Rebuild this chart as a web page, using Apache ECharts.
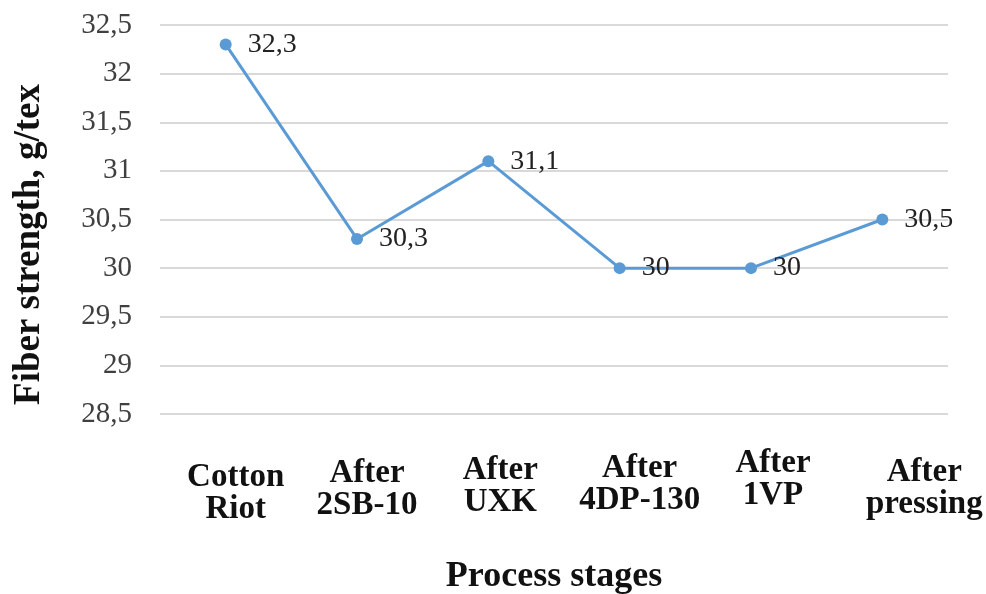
<!DOCTYPE html>
<html><head><meta charset="utf-8">
<script src="https://cdn.jsdelivr.net/npm/echarts@6/dist/echarts.min.js"></script>
<style>html,body{margin:0;padding:0;background:#fff}#c{width:986px;height:594px}</style>
</head><body><div id="c"></div>
<script>
const categories = ['Cotton\nRiot', 'After\n2SB-10', 'After\nUXK', 'After\n4DP-130', 'After\n1VP', 'After\npressing'];
const values = [32.3, 30.3, 31.1, 30, 30, 30.5];
const yMin = 28.5, yMax = 32.5, yStep = 0.5;
// per-label horizontal/vertical nudges (style only)
const labelPad = [[14,0,0,20],[10,0,0,20],[7,0,0,24],[5,0,0,40],[0,0,0,44],[9,0,0,84]];
const fmt = v => String(v).replace('.', ',');
const chart = echarts.init(document.getElementById('c'));
chart.setOption({
  animation: false,
  grid: { left: 160, right: 38, top: 25, bottom: 180, containLabel: false, outerBoundsMode: 'none' },
  xAxis: {
    type: 'category',
    data: categories.map((c, i) => ({ value: c, textStyle: { padding: labelPad[i] } })),
    boundaryGap: true,
    axisLine: { show: false }, axisTick: { show: false },
    axisLabel: { interval: 0, hideOverlap: false, margin: 33, fontFamily: 'Liberation Serif', fontWeight: 'bold', fontSize: 33, color: '#111', lineHeight: 32 },
    name: 'Process stages', nameLocation: 'middle', nameGap: 145, nameMoveOverlap: false,
    nameTextStyle: { fontFamily: 'Liberation Serif', fontWeight: 'bold', fontSize: 36, color: '#111' }
  },
  yAxis: {
    type: 'value', min: yMin, max: yMax, interval: yStep,
    axisLine: { show: false }, axisTick: { show: false },
    splitLine: { lineStyle: { color: '#d9d9d9', width: 2 } },
    axisLabel: { margin: 28, fontFamily: 'Liberation Serif', fontSize: 29, color: '#404040', formatter: v => fmt(v) },
    name: 'Fiber strength, g/tex', nameLocation: 'middle', nameGap: 112, nameRotate: 90, nameMoveOverlap: false,
    nameTextStyle: { fontFamily: 'Liberation Serif', fontWeight: 'bold', fontSize: 37, color: '#111', padding: [0, 50, 0, 0] }
  },
  series: [{
    type: 'line', data: values,
    lineStyle: { color: '#5b9bd5', width: 3 },
    itemStyle: { color: '#5b9bd5' },
    symbol: 'circle', symbolSize: 12,
    label: { show: true, position: 'right', distance: 16, fontFamily: 'Liberation Serif', fontSize: 28, color: '#222', formatter: p => fmt(p.value) }
  }]
});
</script></body></html>
